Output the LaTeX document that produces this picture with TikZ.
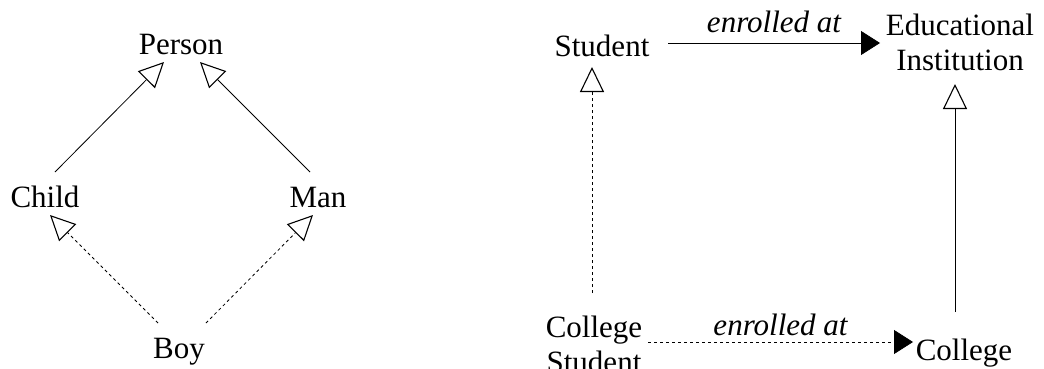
\documentclass[tikz,border=0pt]{standalone}
\usepackage{fontspec}
\setmainfont{Liberation Serif}
\usetikzlibrary{arrows.meta,calc}
\begin{document}
\begin{tikzpicture}[x=1pt,y=-1pt,
  every node/.style={inner sep=0pt,font=\fontsize{31}{35}\selectfont},
  cls/.style={anchor=base},
  cls2/.style={anchor=north,align=center},
  lbl/.style={font=\fontsize{31}{35}\selectfont\itshape,anchor=base},
  conn/.style={line width=0.8pt},
  dep/.style={conn,dash pattern=on 3pt off 3pt},
  gen/.style={-{Triangle[open,length=25pt,width=24pt,fill=white,line width=1.1pt]}},
  assoc/.style={-{Triangle[length=19pt,width=24pt]}}]
\useasboundingbox (0,0) rectangle (1044,369);

% left: multiple inheritance
\node[cls] (person) at (181,55) {Person};
\node[cls] (child)  at (45,207) {Child};
\node[cls] (man)    at (318,207) {Man};
\node[cls] (boy)    at (179,358) {Boy};

\draw[conn,gen] ($(child.base)+(10,-35)$) -- ($(person.base)+(-17,7)$);
\draw[conn,gen] ($(man.base)+(-8,-35)$)   -- ($(person.base)+(19,7)$);
\draw[dep,gen]  ($(boy.base)+(-21,-35)$)  -- ($(child.base)+(5,8)$);
\draw[dep,gen]  ($(boy.base)+(27,-35)$)   -- ($(man.base)+(-5,8)$);

% right: association refined by subclasses
\node[cls]  (student) at (602,57) {Student};
\node[cls2] (edu)     at (960,14) {Educational\\Institution};
\node[cls2] (cstud)   at (594,316) {College\\Student};
\node[cls]  (college) at (964,360) {College};

\draw[conn,assoc] ($(student.base)+(66,-14)$) -- ($(edu.north)+(-80,29)$)
  node[lbl,midway,yshift=10pt] (l1) {enrolled at};
\draw[dep,assoc] ($(cstud.north)+(54,26)$) -- ($(college.base)+(-51,-18)$)
  node[lbl,midway,yshift=7pt] (l2) {enrolled at};
\draw[dep,gen]  ($(cstud.north)+(-2,-23)$) -- ($(student.base)+(-10,10)$);
\draw[conn,gen] ($(college.base)+(-9,-48)$) -- ($(edu.north)+(-5,70)$);
\end{tikzpicture}
\end{document}
